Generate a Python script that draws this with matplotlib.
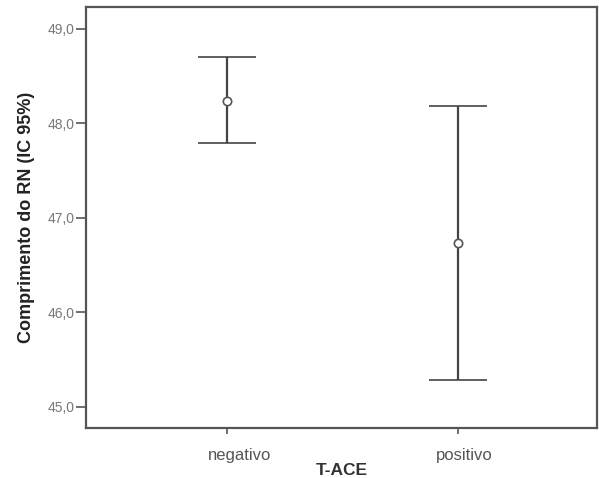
import matplotlib
matplotlib.use("Agg")
import matplotlib.pyplot as plt
import matplotlib.transforms as mtransforms
import numpy as np

plt.rcParams['font.family'] = ['Liberation Sans', 'DejaVu Sans']

categories = ["negativo", "positivo"]
means = [48.24, 46.73]
upper = [48.70, 48.18]
lower = [47.79, 45.28]
yticks = [45.0, 46.0, 47.0, 48.0, 49.0]

fig = plt.figure(figsize=(5.99, 4.78), dpi=100)
ax = fig.add_axes([0.1436, 0.1056, 0.9967 - 0.1436, 0.9854 - 0.1056])

x = np.arange(len(categories))
m = np.array(means)
yerr = np.vstack([m - np.array(lower), np.array(upper) - m])
ax.errorbar(x, m, yerr=yerr, fmt='o', color='#444444', ecolor='#444444',
            elinewidth=1.6, capsize=21, capthick=1.8,
            markersize=6, markerfacecolor='white', markeredgecolor='#555555',
            markeredgewidth=1.2)

ax.set_xlim(-0.613, 1.605)
ax.set_ylim(44.78, 49.233)
ax.set_xticks(x)
ax.set_xticklabels(categories)
ax.set_yticks(yticks)
ax.set_yticklabels([f"{v:.1f}".replace('.', ',') for v in yticks])

for s in ax.spines.values():
    s.set_color('#555555')
    s.set_linewidth(1.6)

ax.tick_params(axis='y', length=7, width=1.2, color='#555555', labelsize=10,
               labelcolor='#777777', pad=1)
ax.tick_params(axis='x', length=4, width=1.2, color='#555555', labelsize=12,
               labelcolor='#555555', pad=11)

# slight horizontal offsets of category labels as in the reference
for lbl, dx in zip(ax.get_xticklabels(), [12, 7]):
    lbl.set_transform(lbl.get_transform() +
                      mtransforms.ScaledTranslation(dx / 100, 0, fig.dpi_scale_trans))

ax.set_ylabel("Comprimento do RN (IC 95%)", fontsize=13, fontweight='bold',
              color='#222222', labelpad=9)
ax.set_xlabel("T-ACE", fontsize=12.5, fontweight='bold', color='#333333', labelpad=0)

fig.savefig("out.png", dpi=100, facecolor='white')
